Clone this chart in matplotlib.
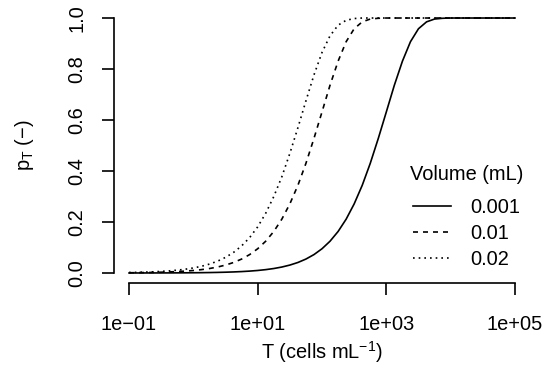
import matplotlib
matplotlib.use("Agg")
import matplotlib.pyplot as plt

plt.rcParams['font.family'] = ['Liberation Sans', 'DejaVu Sans']
plt.rcParams['mathtext.fontset'] = 'custom'
plt.rcParams['mathtext.rm'] = 'Liberation Sans'
plt.rcParams['mathtext.it'] = 'Liberation Sans'

# concentration T (cells/mL), log spaced
T = [0.1, 0.133, 0.178, 0.237, 0.316, 0.422, 0.562, 0.75,
     1, 1.33, 1.78, 2.37, 3.16, 4.22, 5.62, 7.5,
     10, 13.3, 17.8, 23.7, 31.6, 42.2, 56.2, 75,
     100, 133, 178, 237, 316, 422, 562, 750,
     1000, 1330, 1780, 2370, 3160, 4220, 5620, 7500,
     10000, 13300, 17800, 23700, 31600, 42200, 56200, 75000, 100000]

# probability of detection for each sample volume
p_0001 = [0.0001, 0.000133, 0.000178, 0.000237, 0.000316, 0.000422, 0.000562, 0.00075,
          0.001, 0.00133, 0.00178, 0.00237, 0.00316, 0.00421, 0.0056, 0.00747,
          0.00995, 0.0132, 0.0176, 0.0234, 0.0311, 0.0413, 0.0547, 0.0723,
          0.0952, 0.1245, 0.163, 0.211, 0.271, 0.344, 0.430, 0.528,
          0.632, 0.736, 0.831, 0.907, 0.958, 0.985, 0.996, 0.999,
          1.0, 1.0, 1.0, 1.0, 1.0, 1.0, 1.0, 1.0, 1.0]
p_001 = [0.001, 0.00133, 0.00178, 0.00237, 0.00316, 0.00421, 0.0056, 0.00747,
         0.00995, 0.0132, 0.0176, 0.0234, 0.0311, 0.0413, 0.0547, 0.0723,
         0.0952, 0.1245, 0.163, 0.211, 0.271, 0.344, 0.430, 0.528,
         0.632, 0.736, 0.831, 0.907, 0.958, 0.985, 0.996, 0.999,
         1.0, 1.0, 1.0, 1.0, 1.0, 1.0, 1.0, 1.0,
         1.0, 1.0, 1.0, 1.0, 1.0, 1.0, 1.0, 1.0, 1.0]
p_002 = [0.002, 0.00266, 0.00355, 0.00473, 0.0063, 0.0084, 0.0112, 0.0149,
         0.0198, 0.0262, 0.035, 0.0463, 0.0613, 0.0809, 0.1063, 0.139,
         0.181, 0.234, 0.300, 0.377, 0.469, 0.570, 0.675, 0.777,
         0.865, 0.930, 0.972, 0.991, 0.998, 1.0, 1.0, 1.0,
         1.0, 1.0, 1.0, 1.0, 1.0, 1.0, 1.0, 1.0,
         1.0, 1.0, 1.0, 1.0, 1.0, 1.0, 1.0, 1.0, 1.0]

volumes = ["0.001", "0.01", "0.02"]
xticks = [0.1, 10, 1000, 100000]
xtick_labels = ["1e\u221201", "1e+01", "1e+03", "1e+05"]
yticks = [0.0, 0.2, 0.4, 0.6, 0.8, 1.0]

fig = plt.figure(figsize=(5.47, 3.87), dpi=100)
ax = fig.add_axes([0.2077, 0.2682, 0.762, 0.7116])

lw = 1.2
ax.plot(T, p_0001, color='black', lw=lw, linestyle='-', label=volumes[0])
ax.plot(T, p_001, color='black', lw=lw, linestyle=(0, (3, 3)), label=volumes[1])
ax.plot(T, p_002, color='black', lw=lw, linestyle=(0, (1, 2.4)), label=volumes[2])

ax.set_xscale('log')
ax.set_xlim(10 ** -1.24, 10 ** 5.24)
ax.set_ylim(-0.04, 1.04)

for s in ['top', 'right']:
    ax.spines[s].set_visible(False)
ax.spines['left'].set_bounds(0, 1)
ax.spines['bottom'].set_bounds(0.1, 100000)
ax.spines['left'].set_linewidth(lw)
ax.spines['bottom'].set_linewidth(lw)

ax.set_xticks(xticks)
ax.set_xticklabels(xtick_labels)
ax.minorticks_off()
ax.set_yticks(yticks)
ax.set_yticklabels([f"{v:.1f}" for v in yticks], rotation=90, va='center')
ax.tick_params(axis='both', length=8.6, width=lw, labelsize=14.4, direction='out')
ax.tick_params(axis='x', pad=14)
ax.tick_params(axis='y', pad=11)

ax.set_xlabel(r"T (cells mL$^{\mathrm{-1}}$)", fontsize=14.4)
ax.xaxis.set_label_coords(0.5, -0.25)
ax.xaxis.label.set_va('center')
ax.set_ylabel(r"$\mathrm{p_T}$ " + "(\u2212)", fontsize=14.4)
ax.yaxis.set_label_coords(-0.2126, 0.5)
ax.yaxis.label.set_va('center')

leg = ax.legend(title="Volume (mL)", frameon=False, fontsize=14.4, title_fontsize=14.4,
                loc='upper left', bbox_to_anchor=(410 / 547, 1 - 165 / 387),
                bbox_transform=fig.transFigure, borderpad=0, borderaxespad=0,
                handlelength=1.9, handletextpad=0.95, labelspacing=0.35)
leg._legend_box.sep = 10  # extra room under the legend title

fig.savefig("out.png", dpi=100)
